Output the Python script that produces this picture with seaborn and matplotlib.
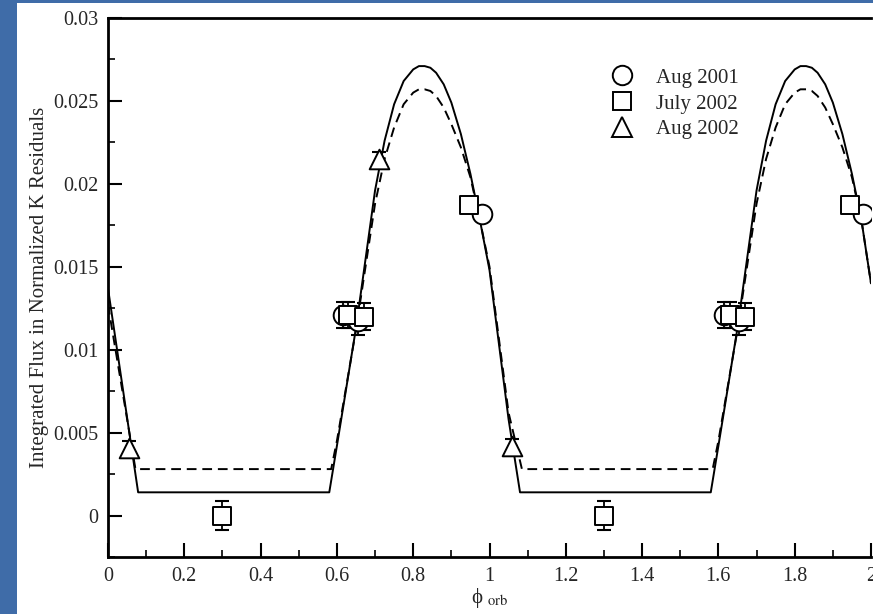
import matplotlib
matplotlib.use('Agg')
import matplotlib.pyplot as plt
from matplotlib.lines import Line2D
from matplotlib.patches import Rectangle
from matplotlib.ticker import MultipleLocator
import pandas as pd
import seaborn as sns

# model curves (phase, integrated flux)
solid_phase = [0.0, 0.079, 0.58, 0.60, 0.65, 0.70, 0.725, 0.75, 0.775, 0.80, 0.815, 0.83, 0.845, 0.86, 0.88,
               0.90, 0.925, 0.95, 0.975, 1.00, 1.05, 1.08,
               1.58, 1.60, 1.65, 1.70, 1.725, 1.75, 1.775, 1.80, 1.815, 1.83, 1.845, 1.86, 1.88,
               1.90, 1.925, 1.95, 1.975, 2.0]
solid_flux = [0.0137, 0.0014, 0.0014, 0.0042, 0.0113, 0.0196, 0.0226, 0.0248, 0.0262, 0.0269, 0.0271, 0.0271,
              0.0270, 0.0267, 0.0260, 0.0249, 0.0230, 0.0206, 0.0178, 0.0148, 0.0058, 0.0014,
              0.0014, 0.0042, 0.0113, 0.0196, 0.0226, 0.0248, 0.0262, 0.0269, 0.0271, 0.0271,
              0.0270, 0.0267, 0.0260, 0.0249, 0.0230, 0.0206, 0.0178, 0.0140]
dashed_phase = [0.0, 0.072, 0.585, 0.60, 0.65, 0.70, 0.725, 0.75, 0.775, 0.80, 0.815, 0.83, 0.845, 0.86, 0.88,
                0.90, 0.925, 0.95, 0.975, 1.00, 1.05, 1.085,
                1.585, 1.60, 1.65, 1.70, 1.725, 1.75, 1.775, 1.80, 1.815, 1.83, 1.845, 1.86, 1.88,
                1.90, 1.925, 1.95, 1.975, 2.0]
dashed_flux = [0.0127, 0.0028, 0.0028, 0.0045, 0.0112, 0.0188, 0.0215, 0.0234, 0.0248, 0.0255, 0.0257, 0.0257,
               0.0256, 0.0253, 0.0246, 0.0236, 0.0222, 0.0204, 0.0178, 0.0150, 0.0062, 0.0028,
               0.0028, 0.0045, 0.0112, 0.0188, 0.0215, 0.0234, 0.0248, 0.0255, 0.0257, 0.0257,
               0.0256, 0.0253, 0.0246, 0.0236, 0.0222, 0.0204, 0.0178, 0.0140]

# observations
aug2001_phase = [0.615, 0.655, 0.98, 1.615, 1.655, 1.98]
aug2001_flux = [0.0121, 0.0117, 0.0182, 0.0121, 0.0117, 0.0182]
aug2001_err = [0.0008, 0.0008, 0.0, 0.0008, 0.0008, 0.0]

jul2002_phase = [0.30, 0.63, 0.67, 0.945, 1.30, 1.63, 1.67, 1.945]
jul2002_flux = [0.0000, 0.0121, 0.0120, 0.0187, 0.0000, 0.0121, 0.0120, 0.0187]
jul2002_err = [0.00085, 0.0008, 0.0008, 0.0, 0.00085, 0.0008, 0.0008, 0.0]

aug2002_phase = [0.055, 0.71, 1.06]
aug2002_flux = [0.0041, 0.0215, 0.0042]
aug2002_err = [0.0004, 0.0004, 0.0004]

sns.set_style('ticks')
plt.rcParams['font.family'] = ['Liberation Serif', 'DejaVu Serif']
plt.rcParams['mathtext.fontset'] = 'stix'

fig = plt.figure(figsize=(8.73, 6.14), dpi=100, facecolor='white')
# blue slide border on the left and top
blue = '#3f6ca8'
fig.patches.append(Rectangle((0, 0), 17 / 873, 1, transform=fig.transFigure, facecolor=blue, edgecolor='none'))
fig.patches.append(Rectangle((0, 1 - 3 / 614), 1, 3 / 614, transform=fig.transFigure, facecolor=blue,
                             edgecolor='none'))
ax = fig.add_axes([108 / 873, 1 - 557 / 614, 763 / 873, 539 / 614])
ax.set_facecolor('white')

sns.lineplot(x=solid_phase, y=solid_flux, ax=ax, color='black', lw=1.4, sort=False, estimator=None)
sns.lineplot(x=dashed_phase, y=dashed_flux, ax=ax, color='black', lw=1.4, sort=False, estimator=None,
             linestyle=(0, (5, 3)))

for ph, fl, er, mk, sz in [(aug2001_phase, aug2001_flux, aug2001_err, 'o', 200),
                           (jul2002_phase, jul2002_flux, jul2002_err, 's', 170),
                           (aug2002_phase, aug2002_flux, aug2002_err, '^', 200)]:
    ax.errorbar(ph, fl, yerr=er, fmt='none', ecolor='black', elinewidth=1.3, capsize=5, capthick=1.5, zorder=3)
    df = pd.DataFrame({'phase': ph, 'flux': fl})
    sns.scatterplot(data=df, x='phase', y='flux', ax=ax, marker=mk, s=sz, facecolor='white',
                    edgecolor='black', linewidth=1.4, zorder=4)

ax.set_xlim(0, 2)
ax.set_ylim(-0.0025, 0.03)
ax.xaxis.set_minor_locator(MultipleLocator(0.1))
ax.yaxis.set_minor_locator(MultipleLocator(0.0025))
ax.set_xticks([0, 0.2, 0.4, 0.6, 0.8, 1.0, 1.2, 1.4, 1.6, 1.8, 2.0])
ax.set_xticklabels(['0', '0.2', '0.4', '0.6', '0.8', '1', '1.2', '1.4', '1.6', '1.8', '2'])
ax.set_yticks([0, 0.005, 0.01, 0.015, 0.02, 0.025, 0.03])
ax.set_yticklabels(['0', '0.005', '0.01', '0.015', '0.02', '0.025', '0.03'])
ax.tick_params(which='both', direction='in', color='black', labelsize=14.5, top=False, right=False)
ax.tick_params(which='major', length=10, width=1.5, pad=7)
ax.tick_params(which='minor', length=5, width=1.2)
for s in ['top', 'bottom', 'left']:
    ax.spines[s].set_linewidth(2)
    ax.spines[s].set_color('black')
ax.spines['right'].set_visible(False)

ax.set_ylabel('Integrated Flux in Normalized K Residuals', fontsize=15, labelpad=3)
ax.set_xlabel('ϕ $_{\\rm orb}$', fontsize=15, labelpad=0)

handles = [Line2D([], [], ls='none', marker=m, ms=ms, mfc='white', mec='black', mew=1.4)
           for m, ms in [('o', 14), ('s', 13), ('^', 14)]]
ax.legend(handles, ['Aug 2001', 'July 2002', 'Aug 2002'], loc='upper left',
          bbox_to_anchor=(0.657, 0.907), frameon=False, fontsize=15, handlelength=1.2,
          handletextpad=1.05, labelspacing=0.3, borderpad=0, borderaxespad=0)

fig.savefig('out.png', dpi=100)
